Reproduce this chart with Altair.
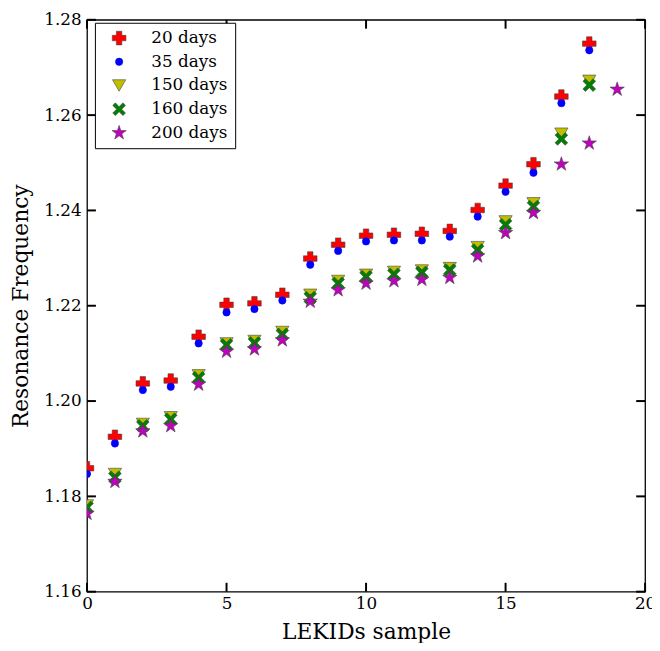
import altair as alt
import pandas as pd

series_names = ["20 days", "35 days", "150 days", "160 days", "200 days"]

samples_19 = list(range(19))
samples_20 = list(range(20))

freq_20 = [1.1859, 1.1925, 1.2037, 1.2043, 1.2135, 1.2202, 1.2205, 1.2223, 1.2299, 1.2328,
           1.2347, 1.2349, 1.2351, 1.2357, 1.2401, 1.2452, 1.2497, 1.2639, 1.2750]
freq_35 = [1.1847, 1.1911, 1.2023, 1.2030, 1.2121, 1.2186, 1.2193, 1.2211, 1.2286, 1.2315,
           1.2335, 1.2337, 1.2337, 1.2345, 1.2387, 1.2439, 1.2479, 1.2625, 1.2736]
freq_150 = [1.1781, 1.1847, 1.1952, 1.1966, 1.2054, 1.2121, 1.2126, 1.2145, 1.2223, 1.2252,
            1.2265, 1.2271, 1.2274, 1.2279, 1.2323, 1.2377, 1.2415, 1.2561, 1.2672]
freq_160 = [1.1777, 1.1840, 1.1948, 1.1962, 1.2049, 1.2118, 1.2122, 1.2140, 1.2217, 1.2247,
            1.2261, 1.2266, 1.2270, 1.2275, 1.2317, 1.2370, 1.2408, 1.2550, 1.2663]
freq_200 = [1.1764, 1.1831, 1.1937, 1.1948, 1.2035, 1.2104, 1.2109, 1.2128, 1.2209, 1.2233,
            1.2247, 1.2252, 1.2255, 1.2259, 1.2304, 1.2353, 1.2395, 1.2497, 1.2541, 1.2654]

x_ticks = [0, 5, 10, 15, 20]
y_ticks = [1.16, 1.18, 1.20, 1.22, 1.24, 1.26, 1.28]

colors = ["#ff0000", "#0000ff", "#bfbf00", "#008000", "#bf00bf"]
strokes = ["#444444", "#0000ff", "#444444", "#444444", "#444444"]
x_path = "M-1,-0.6L-0.6,-1L0,-0.4L0.6,-1L1,-0.6L0.4,0L1,0.6L0.6,1L0,0.4L-0.6,1L-1,0.6L-0.4,0Z"
star_path = ("M0,-1.05L0.235,-0.325L1,-0.325L0.38,0.125L0.615,0.85L0,0.4"
             "L-0.615,0.85L-0.38,0.125L-1,-0.325L-0.235,-0.325Z")
shapes = ["cross", "circle", "triangle-down", x_path, star_path]
sizes = [190, 55, 180, 165, 210]

rows = []
for name, xs, ys in [
    ("20 days", samples_19, freq_20),
    ("35 days", samples_19, freq_35),
    ("150 days", samples_19, freq_150),
    ("160 days", samples_19, freq_160),
    ("200 days", samples_20, freq_200),
]:
    for xv, yv in zip(xs, ys):
        rows.append({"sample": xv, "freq": yv, "series": name})
df = pd.DataFrame(rows)

W, H = 565, 579
FONT = "DejaVu Serif"
TL = 9

xscale = alt.Scale(domain=[0, 20], nice=False, zero=False)
yscale = alt.Scale(domain=[1.16, 1.28], nice=False, zero=False)

x_axis = alt.Axis(values=x_ticks, ticks=False, domain=False, grid=False, orient="bottom",
                  labelFont=FONT, labelFontSize=17, labelColor="black",
                  labelPadding=4, labelFlush=False, labelBound=False,
                  title="LEKIDs sample", titleFont=FONT, titleFontSize=22,
                  titleFontWeight="normal", titleColor="black", titlePadding=10)
y_axis = alt.Axis(values=y_ticks, format=".2f", ticks=False, domain=False, grid=False,
                  orient="left",
                  labelFont=FONT, labelFontSize=17, labelColor="black",
                  labelPadding=6, labelFlush=False, labelBound=False,
                  title="Resonance Frequency", titleFont=FONT, titleFontSize=22,
                  titleFontWeight="normal", titleColor="black", titlePadding=11)

legend = alt.Legend(orient="none", legendX=8, legendY=3, title=None,
                    labelFont=FONT, labelFontSize=17, labelColor="black",
                    strokeColor="black", fillColor="white", padding=7,
                    rowPadding=6, symbolStrokeWidth=0.6,
                    symbolOffset=9, labelOffset=24, cornerRadius=0)

points = alt.Chart(df).mark_point(filled=True, clip=True, strokeWidth=0.6, opacity=1).encode(
    x=alt.X("sample:Q", scale=xscale, axis=x_axis),
    y=alt.Y("freq:Q", scale=yscale, axis=y_axis),
    color=alt.Color("series:N", scale=alt.Scale(domain=series_names, range=colors), legend=legend),
    shape=alt.Shape("series:N", scale=alt.Scale(domain=series_names, range=shapes), legend=legend),
    size=alt.Size("series:N", scale=alt.Scale(type="ordinal", domain=series_names, range=sizes),
                  legend=legend),
    stroke=alt.Stroke("series:N", scale=alt.Scale(domain=series_names, range=strokes), legend=legend),
)

xt = pd.DataFrame({"sample": x_ticks})
yt = pd.DataFrame({"freq": y_ticks})

xbot = alt.Chart(xt).mark_rule(color="black", strokeWidth=2).encode(
    x=alt.X("sample:Q", scale=xscale, axis=x_axis), y=alt.value(H), y2=alt.value(H - TL))
xtop = alt.Chart(xt).mark_rule(color="black", strokeWidth=2).encode(
    x=alt.X("sample:Q", scale=xscale, axis=x_axis), y=alt.value(0), y2=alt.value(TL))
yleft = alt.Chart(yt).mark_rule(color="black", strokeWidth=2).encode(
    y=alt.Y("freq:Q", scale=yscale, axis=y_axis), x=alt.value(0), x2=alt.value(TL))
yright = alt.Chart(yt).mark_rule(color="black", strokeWidth=2).encode(
    y=alt.Y("freq:Q", scale=yscale, axis=y_axis), x=alt.value(W), x2=alt.value(W - TL))

chart = alt.layer(points, xbot, xtop, yleft, yright).properties(
    width=W, height=H,
    autosize=alt.AutoSizeParams(type="none"),
    padding={"left": 80, "top": 8, "right": 7, "bottom": 48},
).configure(background="white").configure_view(stroke="black", strokeWidth=1.3)

chart.save("out.html", embed_options={"renderer": "svg", "actions": False})
